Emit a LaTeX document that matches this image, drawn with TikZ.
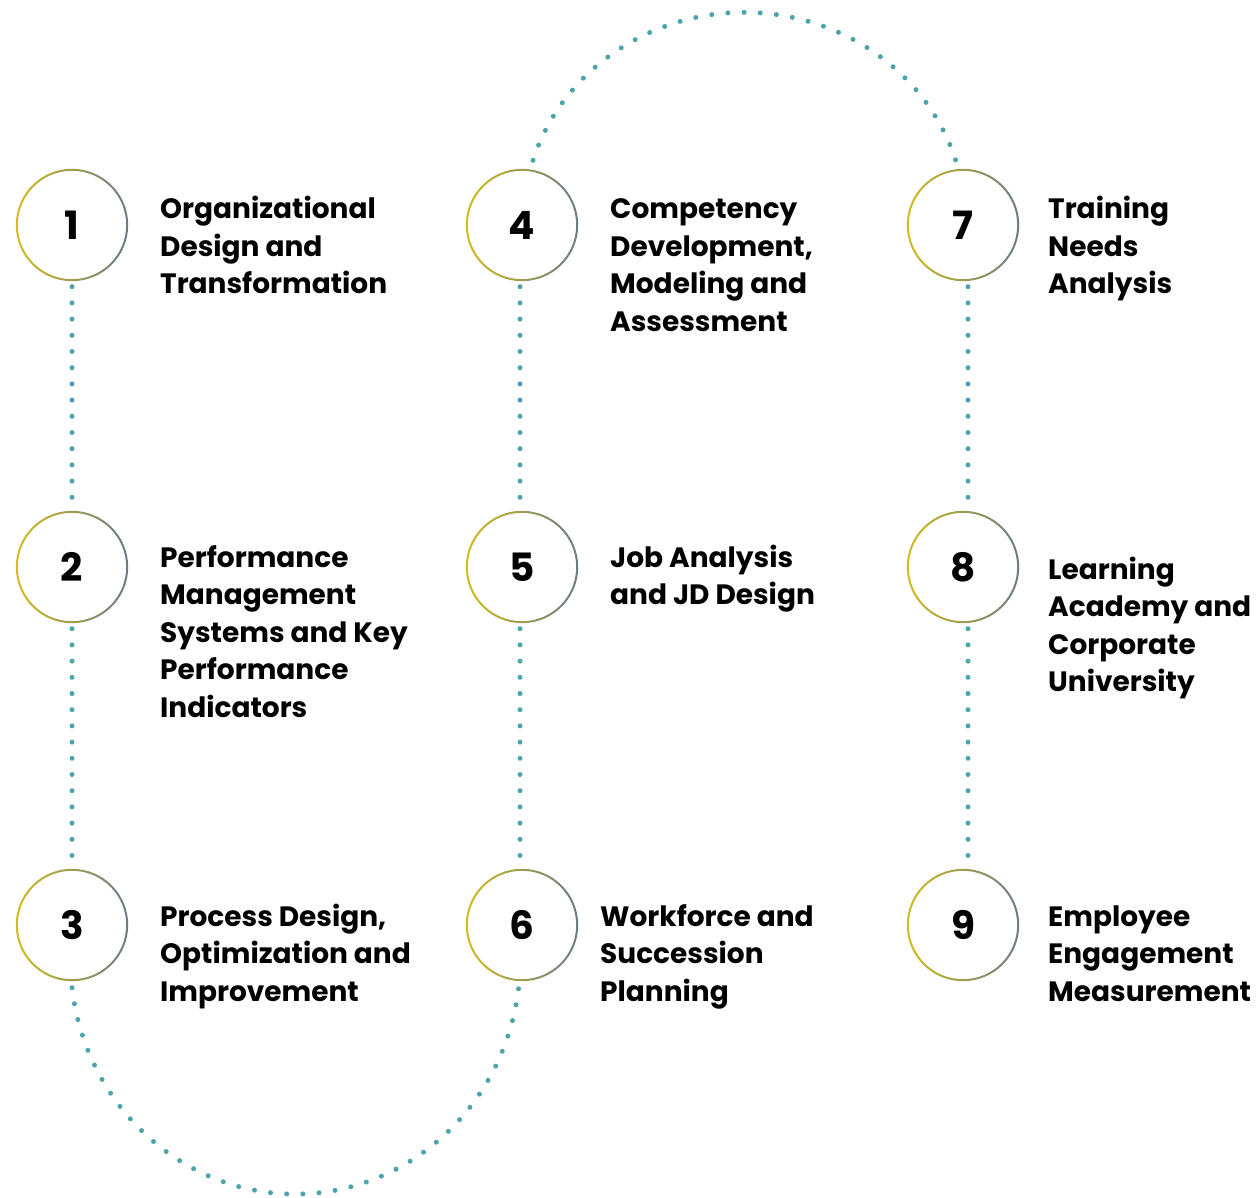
\documentclass[tikz,border=0pt]{standalone}
\usepackage{fontspec}
\setmainfont{Poppins}
\definecolor{dotteal}{HTML}{4AA4A9}
\definecolor{ringgold}{HTML}{D2BC1E}
\definecolor{ringgray}{HTML}{6A7C86}
\tikzset{
  dotline/.style={draw=dotteal,line width=5pt,line cap=round,dash pattern=on 0pt off 16.2pt},
  numcircle/.style={circle,minimum size=111pt,inner sep=0pt,font=\fontsize{39}{40}\selectfont\bfseries},
  itemtext/.style={anchor=base west,align=left,inner sep=0pt,font=\fontsize{28}{37.5}\selectfont\bfseries}
}
\begin{document}
\begin{tikzpicture}[x=1pt,y=-1pt]
\useasboundingbox (0,0) rectangle (1259,1198);
% circles
\node[numcircle] (c1) at (72,225) {1};
\node[numcircle] (c2) at (72,567) {2};
\node[numcircle] (c3) at (72,925) {3};
\node[numcircle] (c4) at (522,225) {4};
\node[numcircle] (c5) at (522,567) {5};
\node[numcircle] (c6) at (522,925) {6};
\node[numcircle] (c7) at (963,225) {7};
\node[numcircle] (c8) at (963,567) {8};
\node[numcircle] (c9) at (963,925) {9};
\foreach \c in {c1,c2,c3,c4,c5,c6,c7,c8,c9}
  \shade[left color=ringgold,right color=ringgray,even odd rule] (\c) circle (56.2) circle (54.2);
% texts (base = last line)
\node[itemtext] (t1) at (160,294) {Organizational\\Design and\\Transformation};
\node[itemtext] (t2) at (160,717) {Performance\\Management\\Systems and Key\\Performance\\Indicators};
\node[itemtext] (t3) at (160,1001) {Process Design,\\Optimization and\\Improvement};
\node[itemtext] (t4) at (610,331.5) {Competency\\Development,\\Modeling and\\Assessment};
\node[itemtext] (t5) at (610,604.5) {Job Analysis\\and JD Design};
\node[itemtext] (t6) at (600,1001) {Workforce and\\Succession\\Planning};
\node[itemtext] (t7) at (1048,294) {Training\\Needs\\Analysis};
\node[itemtext] (t8) at (1048,691.5) {Learning\\Academy and\\Corporate\\University};
\node[itemtext] (t9) at (1048,1001) {Employee\\Engagement\\Measurement};
% dotted path
\draw[dotline] ([yshift=-6pt]c1.south) -- ([yshift=6pt]c2.north);
\draw[dotline] ([yshift=-6pt]c2.south) -- ([yshift=6pt]c3.north);
\draw[dotline] ([yshift=-7pt]c3.south) arc[start angle=173,end angle=7,x radius=225,y radius=235];
\draw[dotline] ([xshift=-2pt,yshift=-6pt]c5.south) -- ([xshift=-2pt,yshift=6pt]c6.north);
\draw[dotline] ([xshift=-2pt,yshift=-6pt]c4.south) -- ([xshift=-2pt,yshift=6pt]c5.north);
\draw[dotline] ([xshift=11pt,yshift=9pt]c4.north) arc[start angle=197,end angle=343,x radius=221,y radius=209];
\draw[dotline] ([xshift=5pt,yshift=-6pt]c7.south) -- ([xshift=5pt,yshift=6pt]c8.north);
\draw[dotline] ([xshift=5pt,yshift=-6pt]c8.south) -- ([xshift=5pt,yshift=6pt]c9.north);
\end{tikzpicture}
\end{document}
